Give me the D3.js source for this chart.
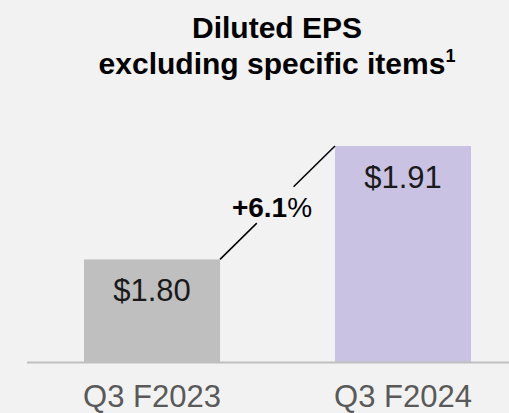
<!DOCTYPE html>
<html>
<head>
<meta charset="utf-8">
<script src="https://cdn.jsdelivr.net/npm/d3@7"></script>
<style>
  html, body { margin: 0; padding: 0; background: #f2f2f2; }
  svg { display: block; font-family: "Liberation Sans", Arial, sans-serif; }
</style>
</head>
<body>
<svg id="chart" width="509" height="413"></svg>
<script>
const categories = ["Q3 F2023", "Q3 F2024"];
const values = [1.80, 1.91];
const valueLabels = ["$1.80", "$1.91"];
const barColors = ["#bfbfbf", "#c9c2e3"];
const changeLabel = "+6.1";
const titleLines = ["Diluted EPS", "excluding specific items"];

const svg = d3.select("#chart");
const W = 509, H = 413;
svg.append("rect").attr("width", W).attr("height", H).attr("fill", "#f2f2f2");

const x = d3.scaleBand().domain(categories).range([33.8, 521.2]).paddingInner(0.458).paddingOuter(0.2);
const y = d3.scaleLinear().domain([1.70, 1.91]).range([362.5, 146]);

// title
const title = svg.append("text").attr("text-anchor", "middle").attr("font-weight", "bold")
  .attr("font-size", 30).attr("fill", "#000");
title.append("tspan").attr("x", 277).attr("y", 38).text(titleLines[0]);
title.append("tspan").attr("x", 277).attr("y", 74).text(titleLines[1]);
title.append("tspan").attr("font-size", 18).attr("dy", -12).text("1");

// bars
svg.selectAll("rect.bar").data(values).join("rect").attr("class", "bar")
  .attr("x", (d, i) => x(categories[i]))
  .attr("width", x.bandwidth())
  .attr("y", d => y(d))
  .attr("height", d => y.range()[0] - y(d))
  .attr("fill", (d, i) => barColors[i]);

// axis baseline
const axis = svg.append("g").attr("transform", `translate(0,${y.range()[0]})`)
  .call(d3.axisBottom(x).tickSize(0).tickPadding(30));
axis.select(".domain").attr("d", `M27,0H509`).attr("stroke", "#bfbfbf").attr("stroke-width", 2);
axis.selectAll(".tick text").attr("font-size", 31).attr("fill", "#595959")
  .attr("font-family", "'Liberation Sans', Arial, sans-serif").attr("dy", "0.71em").attr("y", 22);

// value labels
svg.selectAll("text.val").data(values).join("text").attr("class", "val")
  .attr("x", (d, i) => x(categories[i]) + x.bandwidth() / 2)
  .attr("y", d => y(d) + 42)
  .attr("text-anchor", "middle").attr("font-size", 31).attr("fill", "#1a1a1a")
  .text((d, i) => valueLabels[i]);

// connector line with gap
const x1 = x(categories[0]) + x.bandwidth(), y1 = y(values[0]);
const x2 = x(categories[1]), y2 = y(values[1]);
const p = t => [x1 + (x2 - x1) * t, y1 + (y2 - y1) * t];
[[0, 0.32], [0.64, 1]].forEach(([a, b]) => {
  const [ax, ay] = p(a), [bx, by] = p(b);
  svg.append("line").attr("x1", ax).attr("y1", ay).attr("x2", bx).attr("y2", by)
    .attr("stroke", "#000").attr("stroke-width", 1.5);
});
const ct = svg.append("text").attr("x", 272).attr("y", 217).attr("text-anchor", "middle")
  .attr("font-size", 28).attr("fill", "#000");
ct.append("tspan").attr("font-weight", "bold").text(changeLabel);
ct.append("tspan").text("%");
</script>
</body>
</html>
